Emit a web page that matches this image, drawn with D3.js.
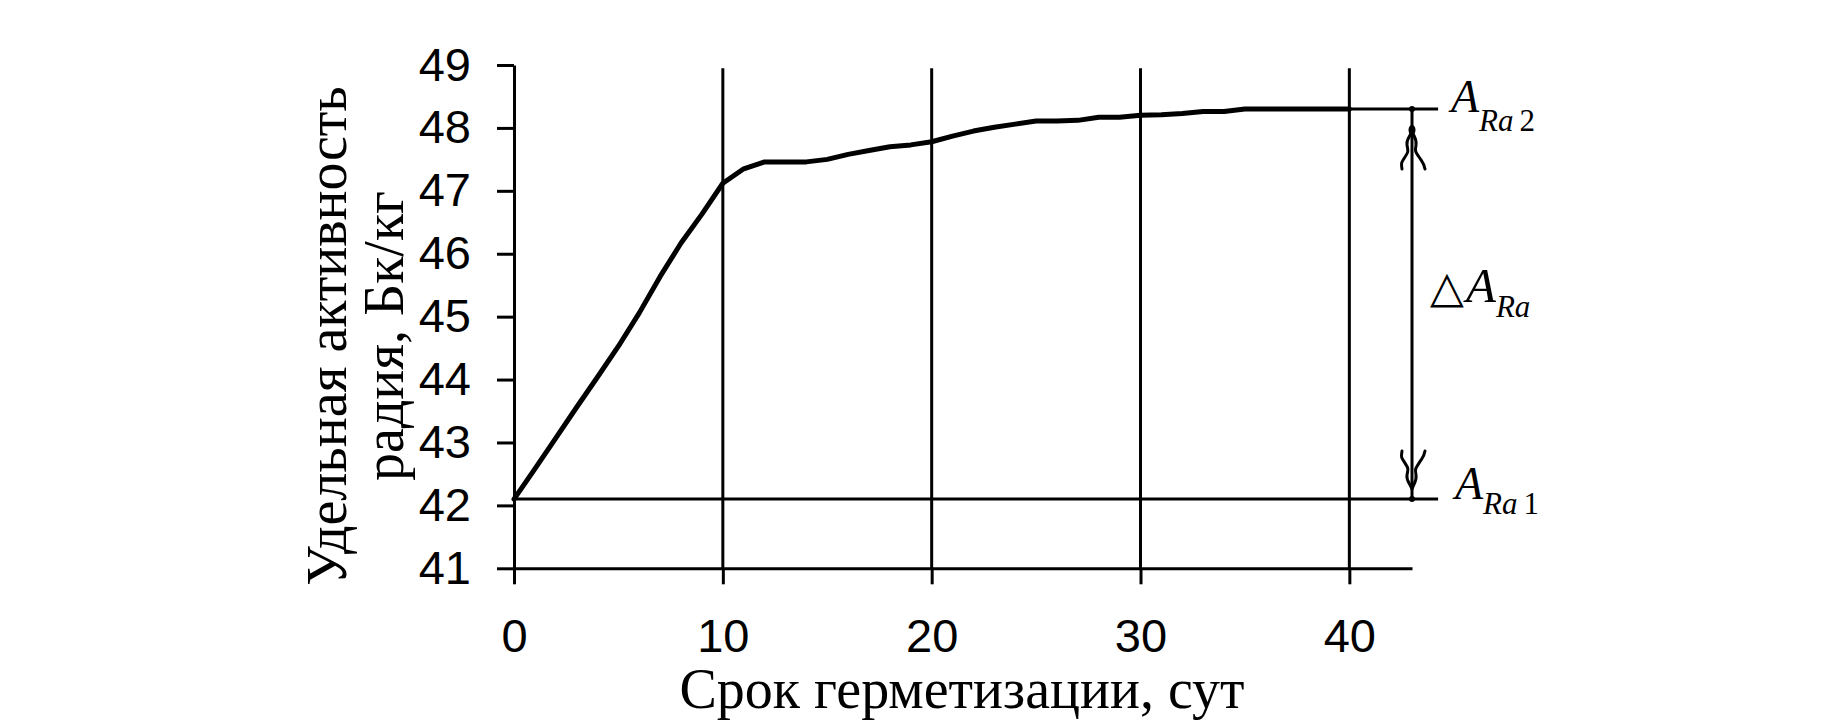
<!DOCTYPE html>
<html>
<head>
<meta charset="utf-8">
<script src="https://cdn.jsdelivr.net/npm/d3@7"></script>
<style>
  html, body { margin: 0; padding: 0; background: #fff; }
  svg { display: block; }
</style>
</head>
<body>
<svg id="chart" width="1831" height="727"></svg>
<script>
// ---- data ----
const days = [0,1,2,3,4,5,6,7,8,9,10,11,12,13,14,15,16,17,18,19,20,21,22,23,24,25,26,27,28,29,30,31,32,33,34,35,36,37,38,39,40];
const activity = [42.10,42.58,43.07,43.56,44.04,44.53,45.06,45.64,46.17,46.63,47.12,47.35,47.46,47.46,47.46,47.50,47.58,47.64,47.70,47.73,47.78,47.87,47.95,48.01,48.06,48.11,48.11,48.12,48.17,48.17,48.20,48.21,48.23,48.26,48.26,48.30,48.30,48.30,48.30,48.30,48.30];
const xTicks = [0,10,20,30,40];
const yTicks = [41,42,43,44,45,46,47,48,49];
const gridDays = [10,20,30,40];
const levelA1 = 42.1;      // A_Ra1
const levelA2 = 48.3;      // A_Ra2
const arrowDay = 43;       // position of ΔA_Ra dimension arrow
const refLineEndDay = 44.25;
const xTitle = "Срок герметизации, сут";
const yTitleLines = ["Удельная активность", "радия, Бк/кг"];

// ---- scales ----
const svg = d3.select("#chart");
const x = d3.scaleLinear().domain([0, 43]).range([514, 1412]);
const y = d3.scaleLinear().domain([41, 49]).range([568.3, 65]);

const sans = "'Liberation Sans', Arial, sans-serif";
const serif = "'Liberation Serif', 'Times New Roman', serif";

// vertical grid lines
svg.append("g").selectAll("line").data(gridDays).join("line")
  .attr("x1", d => x(d)).attr("x2", d => x(d))
  .attr("y1", y(41)).attr("y2", y(48.95))
  .attr("stroke", "#000").attr("stroke-width", 3);

// reference lines
svg.append("line")
  .attr("x1", x(0)).attr("x2", x(refLineEndDay))
  .attr("y1", y(levelA1)).attr("y2", y(levelA1))
  .attr("stroke", "#000").attr("stroke-width", 3);
svg.append("line")
  .attr("x1", x(40)).attr("x2", x(refLineEndDay))
  .attr("y1", y(levelA2)).attr("y2", y(levelA2))
  .attr("stroke", "#000").attr("stroke-width", 3);

// axes
const yAxis = d3.axisLeft(y).tickValues(yTicks).tickSize(17).tickSizeOuter(0).tickPadding(26);
const xAxis = d3.axisBottom(x).tickValues(xTicks).tickSize(16).tickSizeOuter(0).tickPadding(34);

const gy = svg.append("g").attr("transform", `translate(${x(0)},0)`).call(yAxis);
const gx = svg.append("g").attr("transform", `translate(0,${y(41)})`).call(xAxis);
[gx, gy].forEach(g => {
  g.selectAll("path, line").attr("stroke", "#000").attr("stroke-width", 3);
  g.selectAll("text").attr("fill", "#000").style("font-family", sans).style("font-size", "47px");
});

// data curve
const line = d3.line().x((d, i) => x(days[i])).y(d => y(d));
svg.append("path").datum(activity)
  .attr("d", line)
  .attr("fill", "none").attr("stroke", "#000").attr("stroke-width", 5)
  .attr("stroke-linejoin", "round").attr("stroke-linecap", "round");

// dimension arrow ΔA_Ra
const ax = x(arrowDay);
svg.append("line")
  .attr("x1", ax).attr("x2", ax)
  .attr("y1", y(levelA2)).attr("y2", y(levelA1))
  .attr("stroke", "#000").attr("stroke-width", 3);
svg.selectAll("circle.endpt").data([levelA2, levelA1]).join("circle")
  .attr("class", "endpt").attr("cx", ax).attr("cy", d => y(d)).attr("r", 3).attr("fill", "#000");

const headPath = "M0,0 C-2,6 -6,8 -5,14 S-3,20 -7,26 S-11,32 -10,38 M0,0 C2,6 5,8 4,14 S3,20 7,26 S12,32 13,38";
svg.append("path").attr("d", headPath)
  .attr("transform", `translate(${ax},${y(levelA2) + 22})`)
  .attr("fill", "none").attr("stroke", "#000").attr("stroke-width", 3).attr("stroke-linecap", "round");
svg.append("ellipse").attr("cx", ax).attr("cy", y(levelA2) + 21).attr("rx", 3.5).attr("ry", 5).attr("fill", "#000");
svg.append("path").attr("d", headPath)
  .attr("transform", `translate(${ax},${y(levelA1) - 10}) scale(1,-1)`)
  .attr("fill", "none").attr("stroke", "#000").attr("stroke-width", 3).attr("stroke-linecap", "round");

// annotation labels
function label(xp, yp, sub, digit, subDy, size) {
  const t = svg.append("text").attr("x", xp).attr("y", yp)
    .style("font-family", serif).style("font-size", size + "px").attr("fill", "#000");
  t.append("tspan").style("font-style", "italic").text("A");
  t.append("tspan").attr("dy", subDy).style("font-style", "italic").style("font-size", "31px").text(sub);
  if (digit) t.append("tspan").attr("dx", 6).style("font-size", "31px").text(digit);
  return t;
}
label(1451, y(levelA2) + 3, "Ra", "2", 19, 46);
label(1455, y(levelA1), "Ra", "1", 15, 46);

const dt = svg.append("text").attr("x", 1430).attr("y", 302)
  .style("font-family", serif).style("font-size", "49px").attr("fill", "#000");
dt.append("tspan").style("font-family", "'DejaVu Sans', sans-serif").style("font-size", "44px").style("font-weight", "200").text("△");
dt.append("tspan").style("font-style", "italic").attr("dx", 2).text("A");
dt.append("tspan").attr("dy", 15).style("font-style", "italic").style("font-size", "31px").text("Ra");

// axis titles
svg.append("text")
  .attr("x", 962).attr("y", 708).attr("text-anchor", "middle")
  .style("font-family", serif).style("font-size", "56px").attr("fill", "#000")
  .text(xTitle);

const yt = svg.append("text")
  .attr("transform", "translate(346,336) rotate(-90)")
  .attr("text-anchor", "middle")
  .style("font-family", serif).style("font-size", "56px").attr("fill", "#000");
yTitleLines.forEach((s, i) => {
  yt.append("tspan").attr("x", 0).attr("y", i * 57).text(s);
});
</script>
</body>
</html>
